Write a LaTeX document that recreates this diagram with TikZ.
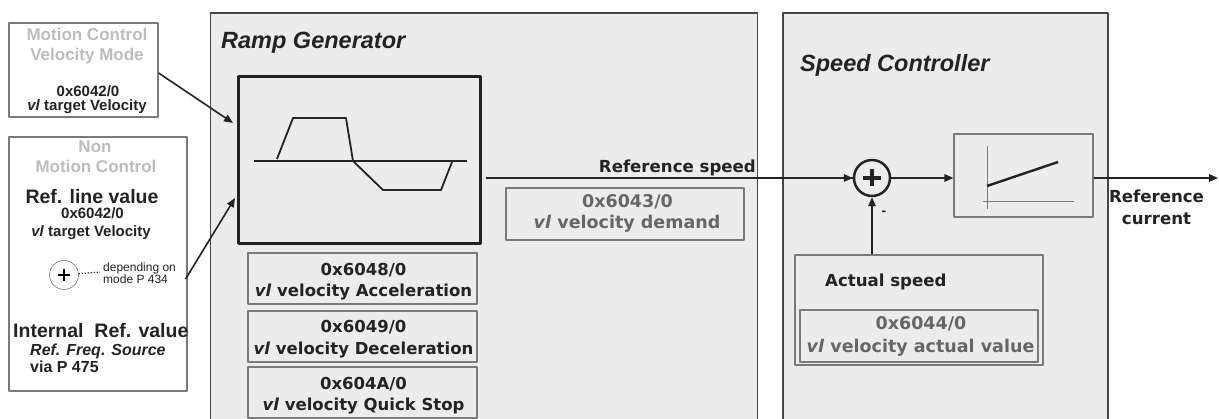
\documentclass[tikz,border=0pt]{standalone}
\usepackage{fontspec}
\setmainfont{Liberation Sans}
\newfontfamily\dvsans{DejaVu Sans}
\usepackage{tikz}
\usetikzlibrary{arrows.meta,calc}
\usetikzlibrary{positioning}
\definecolor{panelfill}{HTML}{ECECEC}
\definecolor{framegray}{HTML}{474747}
\definecolor{boxgray}{HTML}{7A7A7A}
\definecolor{lighttext}{HTML}{BDBDBD}
\definecolor{darktext}{HTML}{232323}
\definecolor{midtext}{HTML}{666666}

\begin{document}
\begin{tikzpicture}[x=1pt,y=-1pt,>={Triangle[length=9pt,width=7.5pt]},line join=round,
  panel/.style={draw=framegray,line width=1.8pt,fill=panelfill,inner sep=0pt},
  srcbox/.style={draw=boxgray,line width=1.2pt,fill=white,inner sep=0pt},
  parbox/.style={draw=boxgray,line width=1.2pt,inner sep=0pt},
  conn/.style={->,line width=1.6pt,draw=darktext},
  txt/.style={inner sep=0pt,anchor=base,text=darktext},
  title/.style={txt,anchor=base west,font=\bfseries\itshape\fontsize{23.5}{26}\selectfont},
  src/.style={txt,font=\bfseries\fontsize{15}{17}\selectfont},
  grey/.style={txt,text=lighttext,font=\bfseries\fontsize{17}{19}\selectfont},
  big/.style={txt,font=\bfseries\fontsize{19.5}{22}\selectfont},
  par/.style={txt,font=\dvsans\bfseries\fontsize{16.5}{19}\selectfont},
  code/.style={txt,text=midtext,font=\dvsans\bfseries\fontsize{17.5}{20}\selectfont},
  sig/.style={txt,font=\dvsans\bfseries\fontsize{16.6}{19}\selectfont}]
\useasboundingbox (0,0) rectangle (1219,419);
\clip (0,0) rectangle (1219,419);
% --- sources
\node[srcbox,minimum width=149,minimum height=94] (mc) at (83.5,70) {};
\node[grey] (mct1) at (87,41) {Motion Control};
\node[grey] (mct2) at (87,61) {Velocity Mode};
\node[src] (mcc) at (88,97) {0x6042/0};
\node[src] (mcv) at (87,111) {\textit{vl} target Velocity};
\node[srcbox,minimum width=178,minimum height=254] (nmc) at (98,264) {};
\node[grey] (nmt1) at (95,153) {Non};
\node[grey] (nmt2) at (96,173) {Motion Control};
\node[big] (rlv) at (92,204) {Ref. line value};
\node[src] (nmc1) at (92.5,219) {0x6042/0};
\node[src] (nmc2) at (91,237) {\textit{vl} target Velocity};
\node[circle,draw=boxgray,line width=0.6pt,minimum size=29,inner sep=0pt] (sel) at (64,275) {};
\draw[line width=2.6pt] ($(sel)+(-6,0)$) -- ($(sel)+(6,0)$) ($(sel)+(0,-6)$) -- ($(sel)+(0,6)$);
\node[txt,anchor=base west,font=\fontsize{12}{14}\selectfont] (dep1) at (103,272) {depending on};
\node[txt,anchor=base west,font=\fontsize{12}{14}\selectfont] (dep2) at (103,284) {mode P 434};
\draw[line width=1.1pt,dash pattern=on 1.1pt off 1.9pt,draw=darktext] (sel) -- ([xshift=-3pt]dep1.base west);
\node[big,anchor=base west] (irv) at (13,338) {Internal\ \ Ref. value};
\node[txt,anchor=base west,font=\bfseries\itshape\fontsize{16}{18}\selectfont] (rfs) at (30,356) {Ref. Freq. Source};
\node[txt,anchor=base west,font=\bfseries\fontsize{16}{18}\selectfont] (via) at (30,373) {via P 475};
% --- ramp generator
\node[panel,minimum width=547,minimum height=430,anchor=north west] (rg) at (209.5,12.5) {};
\node[title] (rgt) at (221,49) {Ramp Generator};
\node[draw=darktext,line width=3.5pt,minimum width=242,minimum height=167,inner sep=0pt] (ramp) at (359.5,160) {};
\draw[line width=1.4pt,draw=darktext] (254,161) -- (467,161);
\draw[line width=1.8pt,draw=darktext] (277,159) -- (293,118) -- (346,118) -- (353,161) -- (383,190) -- (441,190) -- (452,162);
\coordinate (in1) at (233,123);
\coordinate (in2) at (235,198);
\draw[conn] (mc.east |- 0,73) -- (in1);
\draw[conn] ($(nmc.east)+(-2,15)$) -- (in2);
\node[parbox,minimum width=229,minimum height=51] (acc) at (362.5,278.5) {};
\node[par] (acc1) at (363.5,276) {0x6048/0};
\node[par] (acc2) at (363.5,297) {\textit{vl} velocity Acceleration};
\node[parbox,minimum width=229,minimum height=51] (dec) at (362.5,336.5) {};
\node[par] (dec1) at (363.5,333) {0x6049/0};
\node[par] (dec2) at (363.5,355) {\textit{vl} velocity Deceleration};
\node[parbox,minimum width=229,minimum height=51] (qst) at (362.5,392.5) {};
\node[par] (qst1) at (363.5,390) {0x604A/0};
\node[par] (qst2) at (363.5,411) {\textit{vl} velocity Quick Stop};
\node[parbox,minimum width=238,minimum height=52] (vdem) at (625,214) {};
\node[code] (vdem1) at (627.5,208) {0x6043/0};
\node[code] (vdem2) at (627,229) {\textit{vl} velocity demand};
% --- speed controller
\node[panel,minimum width=325,minimum height=430,anchor=north west] (sc) at (782,12) {};
\node[title] (sct) at (800,72) {Speed Controller};
\node[circle,draw=darktext,line width=2.5pt,minimum size=36,inner sep=0pt] (sum) at (872,178) {};
\draw[line width=3.2pt,draw=darktext] ($(sum)+(-9,0)$) -- ($(sum)+(9,0)$) ($(sum)+(0,-8.5)$) -- ($(sum)+(0,8.5)$);
\node[parbox,minimum width=139,minimum height=83] (pi) at (1023.5,175.5) {};
\draw[line width=0.7pt,draw=boxgray] (987,146) -- (987,209) (983,201) -- (1074,201);
\draw[line width=2.4pt,draw=darktext] (987,186) -- (1058,162);
\node[parbox,minimum width=248,minimum height=110] (act) at (919,310) {};
\node[sig,anchor=base west] (acts) at (825,287) {Actual speed};
\node[parbox,minimum width=238,minimum height=52] (vact) at (919,336) {};
\node[code] (vact1) at (921,330) {0x6044/0};
\node[code] (vact2) at (920.5,353) {\textit{vl} velocity actual value};
% --- signal path
\coordinate (out) at (1218,178);
\draw[line width=1.6pt,draw=darktext,shorten <=4pt] (ramp.east |- sum) -- (sum.west);
\draw[conn] (sum.west) ++(-20,0) -- (sum.west);
\node[sig,anchor=base east] (rsp) at (756,173) {Reference speed};
\draw[conn] (sum.east) -- (pi.west |- sum);
\draw[conn] (pi.east |- sum) -- (out);
\node[sig] (rc1) at (1156.5,203) {Reference};
\node[sig] (rc2) at (1156.5,225) {current};
\draw[conn] (sum |- act.north) -- (sum.south);
\node[txt,font=\bfseries\fontsize{14}{16}\selectfont] (neg) at (884,216) {-};
\end{tikzpicture}
\end{document}
